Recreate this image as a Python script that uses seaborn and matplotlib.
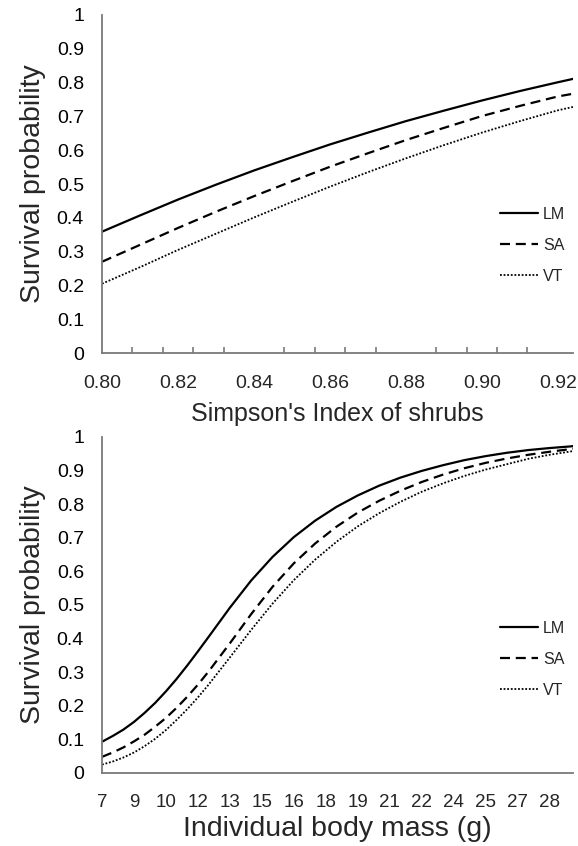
import numpy as np
import pandas as pd
import matplotlib
matplotlib.use("Agg")
import matplotlib.pyplot as plt
import seaborn as sns

# ---------------- data ----------------
sites = ["LM", "SA", "VT"]

simpson_x = [0.80, 0.81, 0.82, 0.83, 0.84, 0.85, 0.86, 0.87, 0.88, 0.89,
             0.90, 0.91, 0.92, 0.924]
simpson_LM = [0.359, 0.407, 0.454, 0.498, 0.540, 0.579, 0.617, 0.652, 0.686,
              0.717, 0.747, 0.775, 0.801, 0.811]
simpson_SA = [0.270, 0.320, 0.370, 0.418, 0.464, 0.508, 0.551, 0.591, 0.630,
              0.666, 0.701, 0.731, 0.759, 0.767]
simpson_VT = [0.205, 0.254, 0.305, 0.353, 0.401, 0.447, 0.492, 0.535, 0.576,
              0.615, 0.652, 0.686, 0.718, 0.728]

mass_x = [7, 7.5, 8, 8.5, 9, 9.5, 10, 10.5, 11, 11.5, 12, 13, 14, 15, 16, 17,
          18, 19, 20, 21, 22, 23, 24, 25, 26, 27, 28, 29, 29.1]
mass_LM = [0.093, 0.110, 0.129, 0.152, 0.179, 0.209, 0.243, 0.280, 0.320,
           0.362, 0.405, 0.492, 0.573, 0.643, 0.702, 0.751, 0.792, 0.826,
           0.855, 0.879, 0.899, 0.916, 0.931, 0.943, 0.953, 0.961, 0.967,
           0.972, 0.973]
mass_SA = [0.048, 0.061, 0.076, 0.094, 0.114, 0.138, 0.164, 0.194, 0.227,
           0.263, 0.302, 0.386, 0.473, 0.554, 0.624, 0.683, 0.733, 0.775,
           0.810, 0.840, 0.866, 0.888, 0.907, 0.923, 0.936, 0.947, 0.956,
           0.964, 0.965]
mass_VT = [0.025, 0.034, 0.046, 0.061, 0.080, 0.102, 0.128, 0.158, 0.190,
           0.225, 0.263, 0.344, 0.426, 0.504, 0.574, 0.635, 0.688, 0.734,
           0.773, 0.807, 0.837, 0.862, 0.884, 0.903, 0.919, 0.935, 0.947,
           0.957, 0.958]

y_ticks = [0, 0.1, 0.2, 0.3, 0.4, 0.5, 0.6, 0.7, 0.8, 0.9, 1.0]
y_ticklabels = ["0", "0.1", "0.2", "0.3", "0.4", "0.5", "0.6", "0.7", "0.8", "0.9", "1"]

simpson_label_pos = [0.80, 0.82, 0.84, 0.86, 0.88, 0.90, 0.92]
simpson_labels = ["0.80", "0.82", "0.84", "0.86", "0.88", "0.90", "0.92"]
simpson_tickmarks = [0.800, 0.808, 0.816, 0.824, 0.832, 0.840, 0.848, 0.856,
                     0.864, 0.872, 0.880, 0.888, 0.896, 0.904, 0.912, 0.920]

mass_tick_pos = [7, 8.5, 10, 11.5, 13, 14.5, 16, 17.5, 19, 20.5, 22, 23.5,
                 25, 26.5, 28]
mass_labels = ["7", "9", "10", "12", "13", "15", "16", "18", "19", "21",
               "22", "24", "25", "27", "28"]

# ---------------- styling ----------------
sns.set_theme(style="white")
plt.rcParams["font.family"] = ["Liberation Sans", "DejaVu Sans"]

styles = {
    "LM": dict(linestyle="-", linewidth=1.6),
    "SA": dict(linestyle=(0, (4.5, 2.6)), linewidth=1.6),
    "VT": dict(linestyle=(0, (1.0, 1.0)), linewidth=1.3),
}
axis_grey = "#7a7a7a"

fig = plt.figure(figsize=(5.78, 8.46), dpi=100)
ax1 = fig.add_axes([0.1765, 0.5827, 0.815, 0.3996])
ax2 = fig.add_axes([0.1765, 0.0863, 0.815, 0.3972])

top_df = pd.DataFrame({"x": simpson_x * 3,
                       "p": simpson_LM + simpson_SA + simpson_VT,
                       "site": ["LM"] * len(simpson_x) + ["SA"] * len(simpson_x) + ["VT"] * len(simpson_x)})
bot_df = pd.DataFrame({"x": mass_x * 3,
                       "p": mass_LM + mass_SA + mass_VT,
                       "site": ["LM"] * len(mass_x) + ["SA"] * len(mass_x) + ["VT"] * len(mass_x)})

for ax, df in [(ax1, top_df), (ax2, bot_df)]:
    for s in sites:
        sub = df[df["site"] == s]
        sns.lineplot(data=sub, x="x", y="p", ax=ax, color="black", label=s,
                     estimator=None, sort=False, **styles[s])
    for side in ["top", "right"]:
        ax.spines[side].set_visible(False)
    for side in ["left", "bottom"]:
        ax.spines[side].set_color(axis_grey)
        ax.spines[side].set_linewidth(1.3)
    ax.set_ylim(0, 1)
    ax.set_yticks(y_ticks)
    ax.set_yticklabels(y_ticklabels)
    ax.tick_params(axis="y", direction="in", length=5, width=1.2,
                   color=axis_grey, labelsize=14, pad=13, labelcolor="black")
    ax.set_ylabel("Survival probability", fontsize=20.5, labelpad=8)

# top panel x axis
ax1.set_xlim(0.80, 0.924)
ax1.set_xticks(simpson_label_pos)
ax1.set_xticklabels(simpson_labels)
ax1.set_xticks(simpson_tickmarks, minor=True)
ax1.tick_params(axis="x", which="major", length=0, labelsize=14, pad=16)
ax1.tick_params(axis="x", which="minor", direction="in", length=4.5, width=1.2,
                color=axis_grey, bottom=True)
ax1.set_xlabel("Simpson's Index of shrubs", fontsize=18, labelpad=7)

# bottom panel x axis
ax2.set_xlim(7, 29.1)
ax2.set_xticks(mass_tick_pos)
ax2.set_xticklabels(mass_labels)
ax2.tick_params(axis="x", direction="in", length=4.5, width=1.2,
                color=axis_grey, labelsize=13.5, pad=15)
ax2.set_xlabel("Individual body mass (g)", fontsize=20.5, labelpad=4)

for ax, yanchor in [(ax1, 0.318), (ax2, 0.339)]:
    ax.legend(loc="center left", bbox_to_anchor=(0.845, yanchor), frameon=False,
              fontsize=11.5, handlelength=2.4, handletextpad=0.3,
              labelspacing=1.0, borderpad=0, borderaxespad=0)

fig.savefig("out.png", dpi=100, facecolor="white")
